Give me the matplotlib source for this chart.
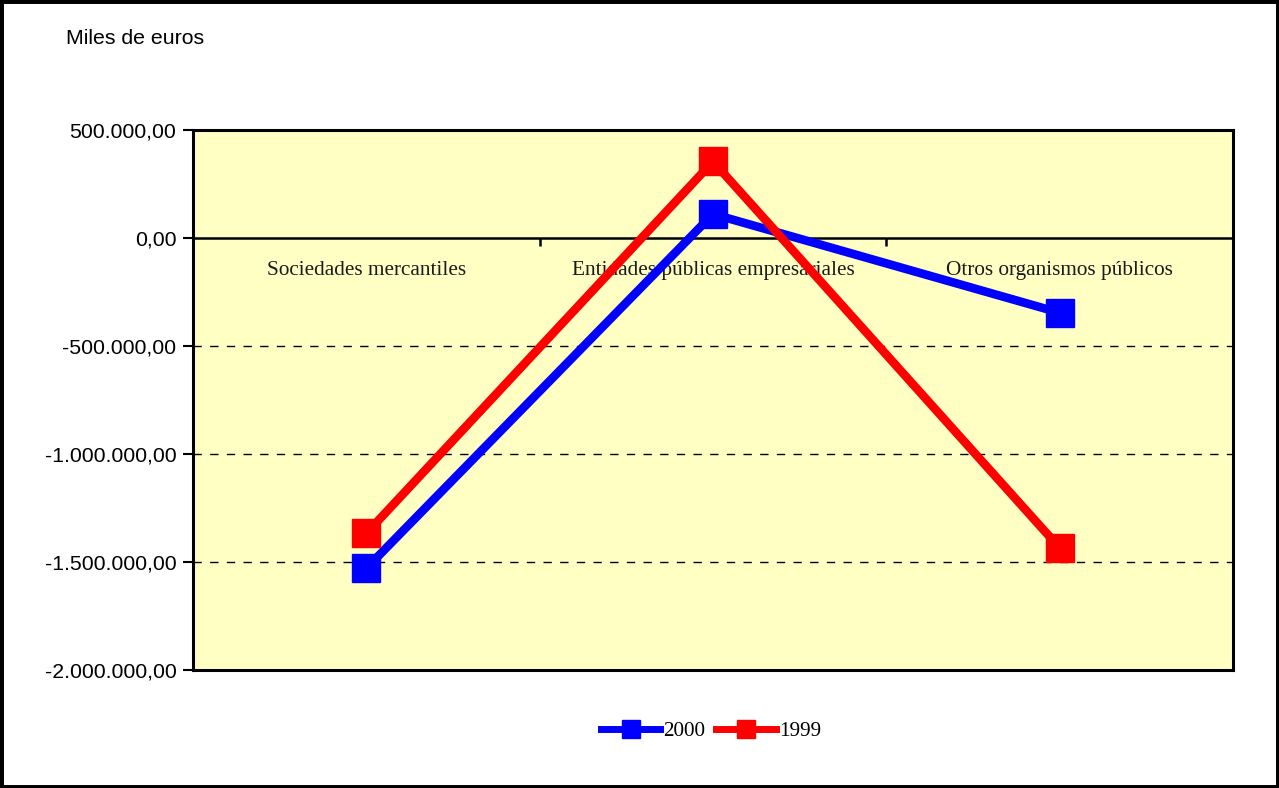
import matplotlib
matplotlib.use('Agg')
import matplotlib.pyplot as plt
from matplotlib.patches import Rectangle
from matplotlib.lines import Line2D
from matplotlib.ticker import FuncFormatter

# data (miles de euros)
categorias = ['Sociedades mercantiles', 'Entidades públicas empresariales', 'Otros organismos públicos']
serie_2000 = [-1529500, 109000, -347600]
serie_1999 = [-1368000, 352000, -1435000]
y_ticks = [500000, 0, -500000, -1000000, -1500000, -2000000]

SANS = 'Liberation Sans'
SERIF = 'Liberation Serif'


def fmt_es(v, pos=None):
    s = '{:,.2f}'.format(v)
    return s.replace(',', 'X').replace('.', ',').replace('X', '.')


fig = plt.figure(figsize=(12.79, 7.88), dpi=100)
ax = fig.add_axes([193 / 1279, 1 - 670 / 788, (1233 - 193) / 1279, (670 - 129.5) / 788])
ax.set_facecolor('#FFFFC4')

x = range(len(categorias))
ax.plot(x, serie_2000, color='#0000FF', lw=6.2, marker='s', ms=20, zorder=4,
        solid_joinstyle='miter')
ax.plot(x, serie_1999, color='#FF0000', lw=6.2, marker='s', ms=20, zorder=5,
        solid_joinstyle='miter')

ax.set_xlim(-0.5, 2.5)
ax.set_ylim(-2000000, 500000)

# y axis
ax.set_yticks(y_ticks)
ax.yaxis.set_major_formatter(FuncFormatter(fmt_es))
ax.tick_params(axis='y', direction='out', length=7, width=1.5, pad=5, labelsize=15.3)
for lab in ax.get_yticklabels():
    lab.set_fontfamily(SANS)

# dashed grid lines
for v in [-500000, -1000000, -1500000]:
    ax.axhline(v, color='black', lw=1, ls=(0, (6, 6)), zorder=1)

# category axis at zero
ax.spines['bottom'].set_position(('data', 0))
ax.spines['bottom'].set_linewidth(1.8)
ax.set_xticks([0.5, 1.5])
ax.set_xticklabels([])
ax.tick_params(axis='x', direction='out', length=6, width=1.8)
ax.axhline(-2000000, color='black', lw=2.2, clip_on=False, zorder=6)
for sp in ['top', 'left', 'right']:
    ax.spines[sp].set_linewidth(2.2)

for i, c in enumerate(categorias):
    ax.text(i, -150000, c, ha='center', va='center', fontsize=15.3,
            family=SERIF, color='#1a1a1a', zorder=3)

fig.text(66 / 1279, 1 - 38 / 788, 'Miles de euros', fontsize=15.3, family=SANS,
         ha='left', va='center')

handles = [Line2D([], [], color='#0000FF', lw=5, marker='s', ms=12.5),
           Line2D([], [], color='#FF0000', lw=5, marker='s', ms=12.5)]
fig.legend(handles, ['2000', '1999'], loc='center', bbox_to_anchor=(711 / 1279, 1 - 731 / 788),
           ncol=2, frameon=False, prop={'family': SERIF, 'size': 15.3},
           handlelength=2.8, handletextpad=0.15, columnspacing=0.5)

fig.patches.append(Rectangle((0, 0), 1, 1, transform=fig.transFigure, fill=False,
                             edgecolor='black', lw=5, zorder=10))

fig.savefig('out.png', dpi=100)
